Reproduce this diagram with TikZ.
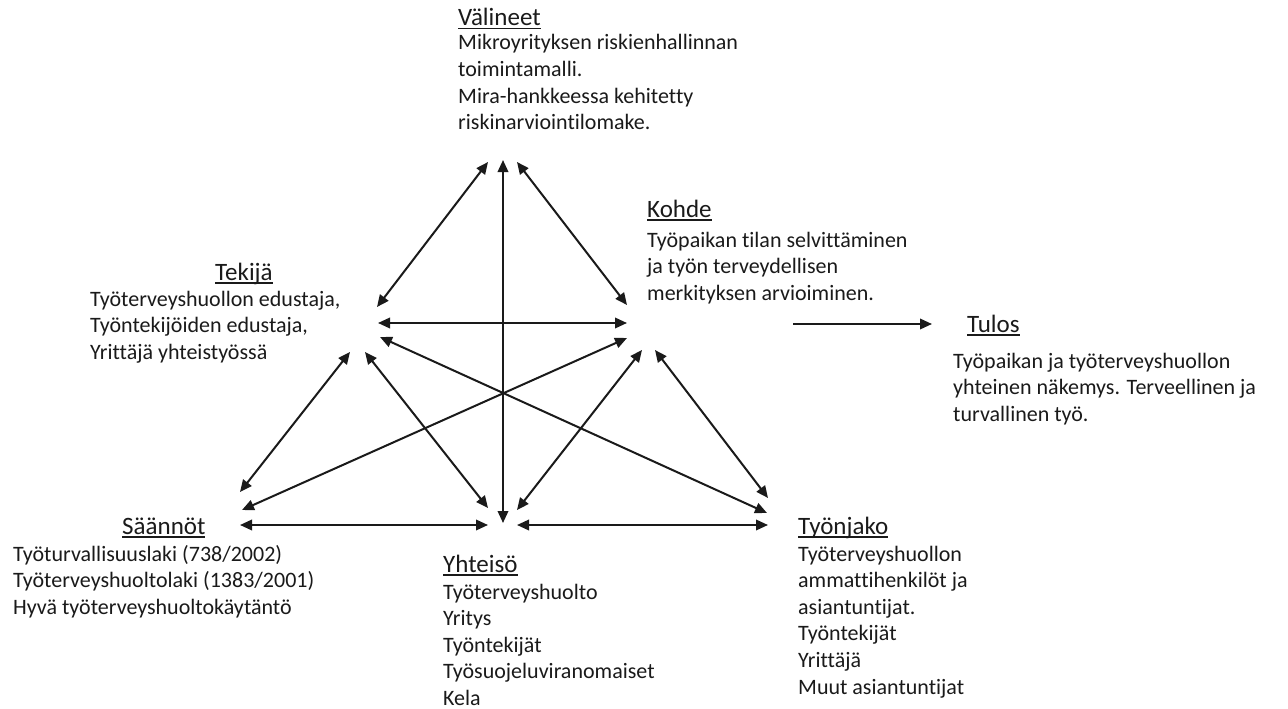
\documentclass[tikz,border=0pt]{standalone}
\usepackage{fontspec}
\setmainfont[Ligatures={NoCommon}]{Carlito}
\usetikzlibrary{arrows.meta}

% underlined heading with a rule a little below the baseline
\newcommand\headul[1]{\leavevmode\setbox0\hbox{#1}\rlap{\rule[-3.5pt]{\wd0}{1.4pt}}\box0}
% left-aligned stack of lines, anchored at the first baseline
\newcommand\bodylines[1]{\begin{tabular}[t]{@{}l@{}}#1\end{tabular}}

\definecolor{ink}{HTML}{1A1A1A}

\begin{document}
\begin{tikzpicture}[x=1pt,y=-1pt,
  head/.style={anchor=base west, inner sep=0pt, text=ink, font=\fontsize{25}{30}\selectfont},
  body/.style={anchor=base west, inner sep=0pt, text=ink, font=\fontsize{22}{26.6}\selectfont},
  tip/.tip={Triangle[length=12pt,width=10.5pt]},
  link/.style={draw=ink, line width=2pt, tip-tip},
  flow/.style={draw=ink, line width=2pt, -tip}]
\useasboundingbox[fill=white] (0,0) rectangle (1288,709);

% ---- labels ----
\node[head] (valineet) at (458,26) {\headul{Välineet}};
\node[body] (valineet-txt) at (458,50) {\bodylines{Mikroyrityksen riskienhallinnan\\toimintamalli.\\Mira-hankkeessa kehitetty\\riskinarviointilomake.}};

\node[head] (kohde) at (647,217) {\headul{Kohde}};
\node[body] (kohde-txt) at (647,247) {\bodylines{Työpaikan tilan selvittäminen\\ja työn terveydellisen\\merkityksen arvioiminen.}};

\node[head] (tekija) at (215,280) {\headul{Tekijä}};
\node[body] (tekija-txt) at (90,306) {\bodylines{Työterveyshuollon edustaja,\\Työntekijöiden edustaja,\\Yrittäjä yhteistyössä}};

\node[head] (tulos) at (967,332) {\headul{Tulos}};
\node[body] (tulos-txt) at (953,368) {\bodylines{Työpaikan ja työterveyshuollon\\yhteinen näkemys. Terveellinen ja\\turvallinen työ.}};

\node[head] (saannot) at (122,534) {\headul{Säännöt}};
\node[body] (saannot-txt) at (13,561) {\bodylines{Työturvallisuuslaki (738/2002)\\Työterveyshuoltolaki (1383/2001)\\Hyvä työterveyshuoltokäytäntö}};

\node[head] (yhteiso) at (443,572) {\headul{Yhteisö}};
\node[body] (yhteiso-txt) at (443,599) {\bodylines{Työterveyshuolto\\Yritys\\Työntekijät\\Työsuojeluviranomaiset\\Kela}};

\node[head] (tyonjako) at (798,534) {\headul{Työnjako}};
\node[body] (tyonjako-txt) at (798,561) {\bodylines{Työterveyshuollon\\ammattihenkilöt ja\\asiantuntijat.\\Työntekijät\\Yrittäjä\\Muut asiantuntijat}};

% ---- arrow ends around each corner of the triangle ----
\coordinate (val-tek) at (488,162);
\coordinate (val-yht) at (503,160);
\coordinate (val-koh) at (517,162);

\coordinate (tek-val) at (377,307);
\coordinate (tek-koh) at (378,323);
\coordinate (tek-tyo) at (380,337);
\coordinate (tek-saa) at (350,352);
\coordinate (tek-yht) at (365,352);

\coordinate (koh-val) at (627,305);
\coordinate (koh-tek) at (627,323);
\coordinate (koh-saa) at (627,338);
\coordinate (koh-yht) at (642,350);
\coordinate (koh-tyo) at (655,350);
\coordinate (koh-out) at (793,324);
\coordinate (tul-in)  at (932,324);

\coordinate (saa-tek) at (240,492);
\coordinate (saa-koh) at (242,510);
\coordinate (saa-yht) at (240,525);

\coordinate (yht-tek) at (488,508);
\coordinate (yht-val) at (503,523);
\coordinate (yht-koh) at (517,510);
\coordinate (yht-saa) at (488,525);
\coordinate (yht-tyo) at (517,525);

\coordinate (tyo-koh) at (768,498);
\coordinate (tyo-tek) at (767,513);
\coordinate (tyo-yht) at (768,525);

% ---- connectors ----
\draw[link] (val-tek) -- (tek-val);
\draw[link] (val-koh) -- (koh-val);
\draw[link] (val-yht) -- (yht-val);
\draw[link] (tek-koh) -- (koh-tek);
\draw[link] (tek-tyo) -- (tyo-tek);
\draw[link] (koh-saa) -- (saa-koh);
\draw[link] (tek-saa) -- (saa-tek);
\draw[link] (tek-yht) -- (yht-tek);
\draw[link] (koh-yht) -- (yht-koh);
\draw[link] (koh-tyo) -- (tyo-koh);
\draw[link] (saa-yht) -- (yht-saa);
\draw[link] (yht-tyo) -- (tyo-yht);
\draw[flow] (koh-out) -- (tul-in);
\end{tikzpicture}
\end{document}
